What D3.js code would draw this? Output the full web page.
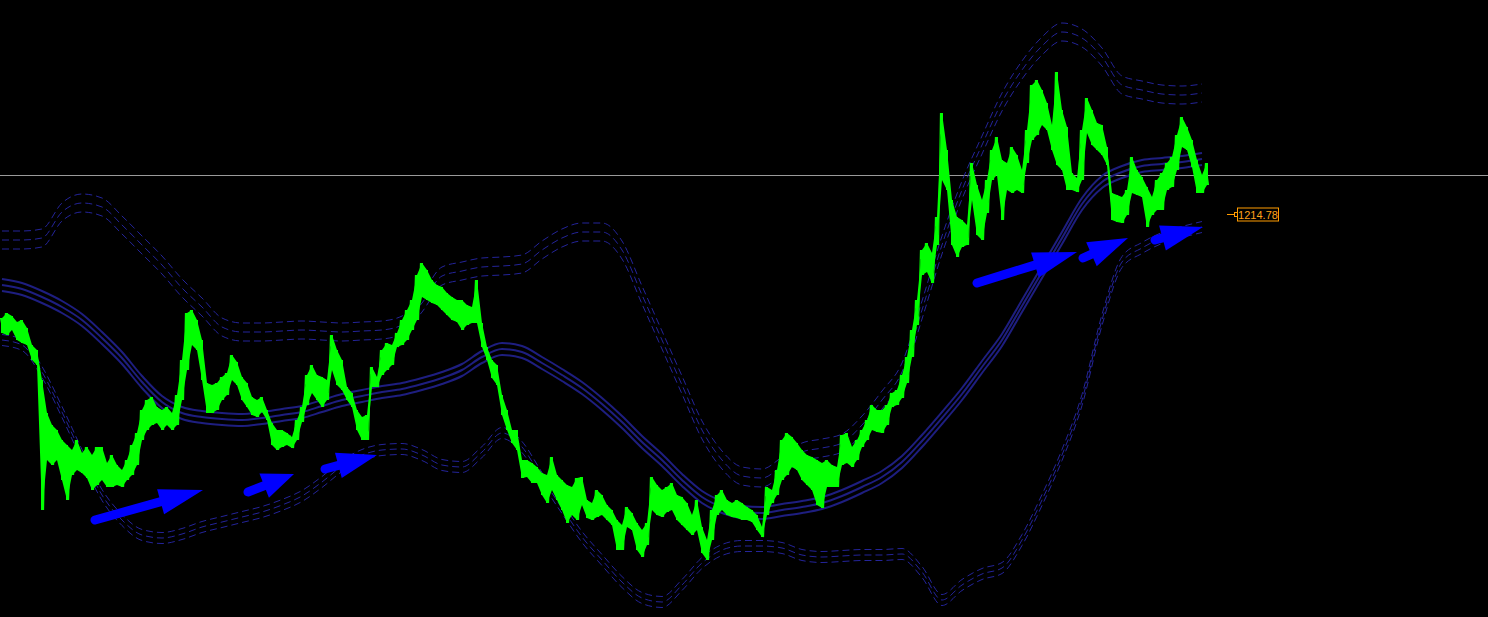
<!DOCTYPE html>
<html>
<head>
<meta charset="utf-8">
<script src="https://cdn.jsdelivr.net/npm/d3@7"></script>
<style>
  html, body { margin: 0; padding: 0; background: #000; overflow: hidden; }
</style>
</head>
<body>
<div id="chartContainer"></div>
<script>
// price bars, one every 5 ticks (high / low)
const barHigh = [
  1163, 1165.5, 1164, 1161, 1162, 1158, 1149.5, 1147, 1132, 1115.5, 1109.5, 1107, 1102, 1099.5, 1097, 1102, 1095.5, 1098.5, 1094.5, 1098.5,
  1098.5, 1090.5, 1094.5, 1089.5, 1087, 1092, 1099.5, 1105.5, 1117, 1122, 1123.5, 1118.5, 1117, 1118.5, 1115.5, 1124.5, 1142, 1165.5, 1167, 1162,
  1152, 1130.5, 1129.5, 1130.5, 1133.5, 1135.5, 1144.5, 1141, 1133.5, 1130.5, 1123.5, 1122, 1123.5, 1117, 1110.5, 1107, 1107, 1105.5, 1103.5, 1112,
  1118.5, 1134.5, 1139.5, 1134.5, 1133.5, 1132, 1154.5, 1147, 1142, 1128.5, 1125.5, 1117, 1113.5, 1114.5, 1138.5, 1133.5, 1147, 1150.5, 1149.5, 1155.5,
  1162, 1167, 1172, 1184.5, 1190.5, 1187, 1182, 1179.5, 1178.5, 1175.5, 1173.5, 1172, 1172, 1169.5, 1168.5, 1182, 1160.5, 1148.5, 1142, 1139.5,
  1124.5, 1117, 1107, 1107, 1092, 1092, 1090.5, 1088.5, 1085.5, 1084.5, 1093.5, 1084.5, 1082, 1079.5, 1078.5, 1083, 1083.5, 1072, 1070.5, 1077,
  1074.5, 1069.5, 1067, 1062, 1059.5, 1068.5, 1065.5, 1060.5, 1057, 1060.5, 1083.5, 1079.5, 1077, 1078.5, 1080.5, 1074.5, 1073.5, 1070.5, 1064.5, 1072,
  1058.5, 1052, 1067, 1074.5, 1077, 1072, 1070.5, 1072, 1070.5, 1068.5, 1067, 1064.5, 1058.5, 1078.5, 1077, 1087, 1102, 1105.5, 1103.5, 1100.5,
  1097, 1094.5, 1093.5, 1092, 1090.5, 1092, 1089.5, 1088.5, 1104.5, 1105.5, 1098.5, 1102, 1107, 1112, 1119.5, 1117, 1117, 1119.5, 1125.5, 1127,
  1134.5, 1143.5, 1157, 1172, 1197, 1200.5, 1195.5, 1213.5, 1265.5, 1247, 1222, 1213.5, 1212, 1209.5, 1240.5, 1229.5, 1222, 1232, 1247, 1253.5,
  1242, 1240.5, 1248.5, 1244.5, 1237, 1257, 1279.5, 1282, 1277, 1270.5, 1259.5, 1286, 1267, 1258.5, 1235.5, 1233, 1257, 1273, 1267, 1260.5,
  1259.5, 1248.5, 1225.5, 1224.5, 1223.5, 1227, 1243.5, 1237, 1233.5, 1228.5, 1223.5, 1232, 1235.5, 1240.5, 1243.5, 1254.5, 1263.5, 1258.5, 1252, 1242,
  1234.5, 1240.5
];
const barLow = [
  1155.5, 1154.5, 1157, 1152, 1150.5, 1149.5, 1142, 1139.5, 1067, 1092, 1089.5, 1092, 1082, 1072, 1084.5, 1087, 1085.5, 1083, 1077, 1079.5,
  1082, 1078.5, 1078.5, 1079.5, 1078.5, 1082, 1084.5, 1089.5, 1102, 1107, 1109.5, 1110.5, 1107, 1109.5, 1107, 1109.5, 1122, 1137, 1149.5, 1147,
  1132, 1115.5, 1115.5, 1117, 1122, 1124.5, 1132, 1129.5, 1122, 1118.5, 1114.5, 1113.5, 1116, 1112, 1099.5, 1097, 1098.5, 1099.5, 1098, 1102,
  1111, 1119.5, 1125.5, 1122, 1118.5, 1122, 1137, 1129.5, 1127, 1122, 1118.5, 1107, 1102, 1102, 1128.5, 1128.5, 1134.5, 1137, 1139.5, 1148.5,
  1149.5, 1152, 1157, 1162, 1173.5, 1172, 1170.5, 1169.5, 1167, 1164.5, 1162, 1161, 1157, 1159.5, 1160.5, 1160.5, 1148.5, 1142, 1133, 1129.5,
  1114.5, 1107, 1100.5, 1097, 1083, 1083.5, 1080.5, 1080.5, 1074.5, 1070.5, 1077, 1072, 1067, 1060.5, 1064.5, 1062, 1069.5, 1063, 1062, 1063.5,
  1064.5, 1062, 1059.5, 1047, 1047, 1058.5, 1057, 1047, 1043.5, 1049.5, 1067, 1064.5, 1063.5, 1066, 1067, 1062, 1059.5, 1057, 1054.5, 1057,
  1045.5, 1042, 1052, 1064.5, 1067, 1064.5, 1063.5, 1063, 1062, 1062, 1061, 1057, 1053.5, 1064.5, 1070.5, 1074.5, 1082, 1084.5, 1088.5, 1087,
  1082, 1079.5, 1077, 1069.5, 1068, 1078.5, 1078.5, 1078.5, 1089.5, 1090.5, 1088.5, 1092, 1098.5, 1102, 1107, 1106, 1105.5, 1109.5, 1118.5, 1119.5,
  1123, 1130.5, 1143.5, 1159.5, 1184.5, 1186, 1180.5, 1199.5, 1232, 1227, 1199.5, 1193.5, 1198.5, 1199.5, 1222, 1204.5, 1202, 1215.5, 1232, 1234.5,
  1212, 1227, 1225.5, 1227, 1225.5, 1240.5, 1252, 1254.5, 1259.5, 1257, 1247, 1239.5, 1237, 1227, 1227, 1226, 1232, 1255.5, 1249.5, 1247,
  1244.5, 1239.5, 1212, 1211, 1210.5, 1214.5, 1225.5, 1224.5, 1223.5, 1208.5, 1214.5, 1217, 1217, 1227, 1228.5, 1237, 1248.5, 1247, 1238.5, 1225.5,
  1225.5, 1229.5
];

// three bands, one sample every 4 bars
const bandStep = 4;
const midBand = [
  1179.5, 1177.5, 1173.5, 1168.5, 1162, 1153, 1143, 1131, 1121, 1115.5,
  1113.5, 1112.5, 1112, 1113, 1114.5, 1116, 1119, 1122, 1124, 1126,
  1127.5, 1130, 1133, 1137, 1143.5, 1147.5, 1146, 1140.5, 1134.5, 1128,
  1120, 1111, 1101, 1092, 1082, 1073.5, 1068.5, 1066, 1065.5, 1067,
  1068.5, 1070.5, 1074, 1078.5, 1083.5, 1091, 1101.5, 1113, 1125, 1138.5,
  1152, 1169, 1186, 1203, 1220, 1231, 1236, 1239, 1240, 1241,
  1242.5
];
const upperBand = [
  1202, 1202, 1203, 1216, 1220.5, 1218.5, 1209.5, 1199.5, 1189.5, 1178,
  1168.5, 1158.5, 1156, 1156, 1156.5, 1157, 1156.5, 1156, 1156.5, 1157,
  1159.5, 1170.5, 1184, 1186.5, 1188.5, 1189, 1190, 1197, 1203, 1206,
  1206, 1197, 1174.5, 1152, 1129.5, 1107, 1092, 1084, 1083, 1089,
  1096, 1098, 1100.5, 1109.5, 1122, 1136, 1167, 1199.5, 1227, 1249.5,
  1271, 1287, 1299, 1306, 1303, 1293.5, 1279.5, 1277, 1275, 1274.5,
  1275.5
];
const lowerBand = [
  1152, 1149.5, 1136, 1116, 1094.5, 1074.5, 1062, 1054.5, 1053, 1055,
  1058.5, 1061, 1063.5, 1066, 1069.5, 1074, 1081, 1089, 1094.5, 1097,
  1097.5, 1094.5, 1089.5, 1088.5, 1096, 1105.5, 1098.5, 1083, 1068, 1053.5,
  1042, 1031, 1023, 1021, 1029.5, 1040.5, 1047, 1049, 1049, 1048,
  1044.5, 1043.5, 1044, 1044.5, 1044.5, 1045, 1036, 1022, 1029.5, 1035,
  1038, 1052, 1072, 1094.5, 1122, 1162, 1191, 1198, 1203, 1206,
  1208.5
];

// horizontal level, price label and hand drawn arrows (bar index, price)
const levelPrice = 1234.5;
const labelPrice = 1214.78;
const arrowStart = [[18.6, 1062], [49.2, 1076], [64.6, 1087.5], [195, 1180.5], [216.2, 1193], [230.6, 1202]];
const arrowEnd = [[40.2, 1077], [58.4, 1085], [75, 1094.5], [215, 1196], [225.2, 1203], [240.2, 1208.5]];

const width = 1488, height = 617;

const svg = d3.select("#chartContainer")
    .append("svg")
    .attr("width", width)
    .attr("height", height)
    .style("display", "block")
    .style("background", "#000");

const x = d3.scaleLinear([0, barHigh.length - 1], [2, 1207]);
const y = d3.scaleLinear([1013.5, 1322], [height, 0]);

// level line
svg.append("line")
    .attr("x1", 0).attr("x2", width)
    .attr("y1", Math.round(y(levelPrice)) + 0.5).attr("y2", Math.round(y(levelPrice)) + 0.5)
    .attr("stroke", "#9a9a9a")
    .attr("stroke-width", 1);

// bands: each one is a triple of lines
function drawBand(values, spread, dashed) {
  [-1, 0, 1].forEach(s => {
    const line = d3.line()
        .curve(d3.curveMonotoneX)
        .x((d, k) => x(k * bandStep))
        .y(d => y(d + s * spread));
    svg.append("path")
        .datum(values)
        .attr("fill", "none")
        .attr("stroke", dashed ? "#24249a" : "#1e1e80")
        .attr("stroke-width", dashed ? 1 : 2)
        .attr("stroke-dasharray", dashed ? "7,4" : null)
        .attr("d", line);
  });
}
drawBand(upperBand, 4.5, true);
drawBand(lowerBand, 2.75, true);
drawBand(midBand, 3, false);

// bars: filled range plus a vertical stroke per bar
const I = d3.range(barHigh.length);
const green = "#00ff00";

svg.append("path")
    .datum(I)
    .attr("d", d3.area().x(i => x(i)).y0(i => y(barLow[i])).y1(i => y(barHigh[i])))
    .attr("fill", green);

const zig = [];
I.forEach(i => {
  zig.push([x(i) - 1.5, y(barHigh[i])]);
  zig.push([x(i) + 1.5, y(barLow[i])]);
});
svg.append("path")
    .attr("d", d3.line()(zig))
    .attr("fill", "none")
    .attr("stroke", green)
    .attr("stroke-width", 1.2);

svg.append("g")
  .selectAll("line")
  .data(I)
  .join("line")
    .attr("x1", i => x(i))
    .attr("x2", i => x(i))
    .attr("y1", i => y(barHigh[i]))
    .attr("y2", i => y(barLow[i]))
    .attr("stroke", green)
    .attr("stroke-width", 2);

// arrows
const arrowHead = [44, 32, 40, 44, 40, 42];
const headHalf = 13;
arrowStart.forEach((a, j) => {
  const x0 = x(a[0]), y0 = y(a[1]);
  const x1 = x(arrowEnd[j][0]), y1 = y(arrowEnd[j][1]);
  const len = Math.hypot(x1 - x0, y1 - y0);
  const ux = (x1 - x0) / len, uy = (y1 - y0) / len;
  const hl = arrowHead[j];
  const bx = x1 - ux * hl, by = y1 - uy * hl;
  svg.append("line")
      .attr("x1", x0).attr("y1", y0)
      .attr("x2", bx + ux * 4).attr("y2", by + uy * 4)
      .attr("stroke", "#0000ff")
      .attr("stroke-width", 9)
      .attr("stroke-linecap", "round");
  svg.append("path")
      .attr("d", `M${x1},${y1}L${bx - uy * headHalf},${by + ux * headHalf}L${bx + uy * headHalf},${by - ux * headHalf}Z`)
      .attr("fill", "#0000ff");
});

// price label on the right
const ly = Math.round(y(labelPrice)) + 0.5;
const lab = svg.append("g");
lab.append("line")
    .attr("x1", 1227).attr("x2", 1234)
    .attr("y1", ly).attr("y2", ly)
    .attr("stroke", "#ff9c00");
lab.append("rect")
    .attr("x", 1234.5).attr("y", ly - 2)
    .attr("width", 3).attr("height", 4)
    .attr("fill", "none")
    .attr("stroke", "#ff9c00");
lab.append("rect")
    .attr("x", 1237.5).attr("y", ly - 6.5)
    .attr("width", 41).attr("height", 13)
    .attr("fill", "#000")
    .attr("stroke", "#ff9c00");
lab.append("text")
    .attr("x", 1258).attr("y", ly + 4.5)
    .attr("text-anchor", "middle")
    .attr("fill", "#ffa21a")
    .style("font-family", "'Liberation Sans', Arial, sans-serif")
    .style("font-size", "11px")
    .text(labelPrice.toFixed(2));
</script>
</body>
</html>
